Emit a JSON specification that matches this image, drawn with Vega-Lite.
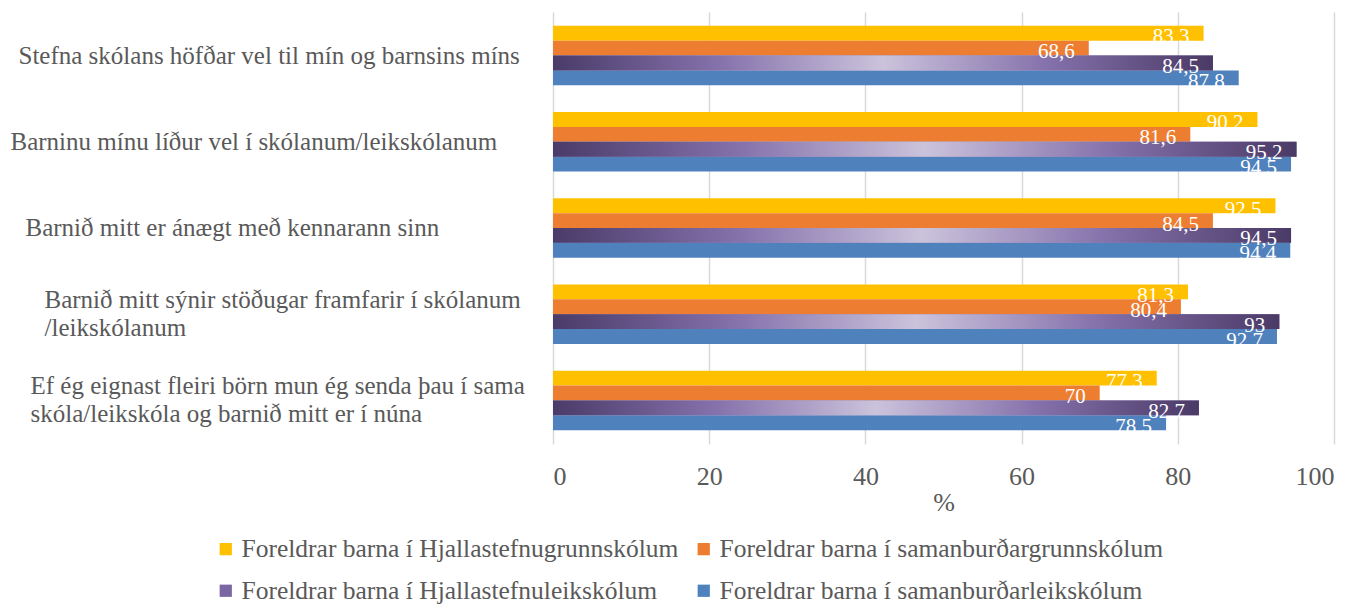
{
  "$schema": "https://vega.github.io/schema/vega-lite/v6.json",
  "autosize": "none",
  "width": 781,
  "height": 432,
  "padding": {"left": 553, "top": 12, "right": 21, "bottom": 161},
  "background": "white",
  "config": {
    "locale": {"number": {"decimal": ",", "thousands": ".", "grouping": [3], "currency": ["", " kr."]}},
    "view": {"stroke": null},
    "font": "Liberation Serif"
  },
  "data": {
    "values": [
      {"q": "Stefna skólans höfðar vel til mín og barnsins míns", "s": "Foreldrar barna í Hjallastefnugrunnskólum", "v": 83.3},
      {"q": "Stefna skólans höfðar vel til mín og barnsins míns", "s": "Foreldrar barna í samanburðargrunnskólum", "v": 68.6},
      {"q": "Stefna skólans höfðar vel til mín og barnsins míns", "s": "Foreldrar barna í Hjallastefnuleikskólum", "v": 84.5},
      {"q": "Stefna skólans höfðar vel til mín og barnsins míns", "s": "Foreldrar barna í samanburðarleikskólum", "v": 87.8},
      {"q": "Barninu mínu líður vel í skólanum/leikskólanum", "s": "Foreldrar barna í Hjallastefnugrunnskólum", "v": 90.2},
      {"q": "Barninu mínu líður vel í skólanum/leikskólanum", "s": "Foreldrar barna í samanburðargrunnskólum", "v": 81.6},
      {"q": "Barninu mínu líður vel í skólanum/leikskólanum", "s": "Foreldrar barna í Hjallastefnuleikskólum", "v": 95.2},
      {"q": "Barninu mínu líður vel í skólanum/leikskólanum", "s": "Foreldrar barna í samanburðarleikskólum", "v": 94.5},
      {"q": "Barnið mitt er ánægt með kennarann sinn", "s": "Foreldrar barna í Hjallastefnugrunnskólum", "v": 92.5},
      {"q": "Barnið mitt er ánægt með kennarann sinn", "s": "Foreldrar barna í samanburðargrunnskólum", "v": 84.5},
      {"q": "Barnið mitt er ánægt með kennarann sinn", "s": "Foreldrar barna í Hjallastefnuleikskólum", "v": 94.5},
      {"q": "Barnið mitt er ánægt með kennarann sinn", "s": "Foreldrar barna í samanburðarleikskólum", "v": 94.4},
      {"q": "Barnið mitt sýnir stöðugar framfarir í skólanum|/leikskólanum", "s": "Foreldrar barna í Hjallastefnugrunnskólum", "v": 81.3},
      {"q": "Barnið mitt sýnir stöðugar framfarir í skólanum|/leikskólanum", "s": "Foreldrar barna í samanburðargrunnskólum", "v": 80.4},
      {"q": "Barnið mitt sýnir stöðugar framfarir í skólanum|/leikskólanum", "s": "Foreldrar barna í Hjallastefnuleikskólum", "v": 93},
      {"q": "Barnið mitt sýnir stöðugar framfarir í skólanum|/leikskólanum", "s": "Foreldrar barna í samanburðarleikskólum", "v": 92.7},
      {"q": "Ef ég eignast fleiri börn mun ég senda þau í sama|skóla/leikskóla og barnið mitt er í núna", "s": "Foreldrar barna í Hjallastefnugrunnskólum", "v": 77.3},
      {"q": "Ef ég eignast fleiri börn mun ég senda þau í sama|skóla/leikskóla og barnið mitt er í núna", "s": "Foreldrar barna í samanburðargrunnskólum", "v": 70},
      {"q": "Ef ég eignast fleiri börn mun ég senda þau í sama|skóla/leikskóla og barnið mitt er í núna", "s": "Foreldrar barna í Hjallastefnuleikskólum", "v": 82.7},
      {"q": "Ef ég eignast fleiri börn mun ég senda þau í sama|skóla/leikskóla og barnið mitt er í núna", "s": "Foreldrar barna í samanburðarleikskólum", "v": 78.5}
    ]
  },
  "encoding": {
    "y": {
      "field": "q", "type": "nominal", "sort": null,
      "scale": {"paddingInner": 0.31, "paddingOuter": 0.16},
      "axis": {
        "title": null, "domain": false, "ticks": false,
        "labelExpr": "split(datum.label, '|')",
        "labelAlign": "left",
        "labelPadding": {"expr": "indexof(datum.value,'Stefna')==0 ? 535 : indexof(datum.value,'Barninu')==0 ? 543 : indexof(datum.value,'Barnið mitt er')==0 ? 528 : indexof(datum.value,'Barnið mitt sýnir')==0 ? 509 : 523"},
        "labelOffset": {"expr": "indexof(datum.value,'|') >= 0 ? -14 : 0"},
        "labelLimit": 600,
        "labelFont": "Liberation Serif", "labelFontSize": 25, "labelColor": "#595959",
        "labelLineHeight": 28
      }
    },
    "yOffset": {
      "field": "s", "type": "nominal",
      "sort": ["Foreldrar barna í Hjallastefnugrunnskólum", "Foreldrar barna í samanburðargrunnskólum", "Foreldrar barna í Hjallastefnuleikskólum", "Foreldrar barna í samanburðarleikskólum"],
      "scale": {"paddingInner": 0, "paddingOuter": 0}
    },
    "x": {
      "field": "v", "type": "quantitative",
      "scale": {"domain": [0, 100], "nice": false},
      "axis": {
        "title": "%", "values": [0, 20, 40, 60, 80, 100],
        "domain": false, "ticks": false,
        "grid": true, "gridColor": "#d9d9d9", "gridWidth": 1.5,
        "labelFont": "Liberation Serif", "labelFontSize": 26, "labelColor": "#595959", "labelPadding": 19,
        "titleFont": "Liberation Serif", "titleFontSize": 26, "titleFontWeight": "normal", "titleColor": "#595959", "titlePadding": 0
      }
    }
  },
  "layer": [
    {
      "mark": {"type": "bar"},
      "encoding": {
        "color": {
          "field": "s", "type": "nominal",
          "sort": ["Foreldrar barna í Hjallastefnugrunnskólum", "Foreldrar barna í samanburðargrunnskólum", "Foreldrar barna í Hjallastefnuleikskólum", "Foreldrar barna í samanburðarleikskólum"],
          "scale": {
            "domain": ["Foreldrar barna í Hjallastefnugrunnskólum", "Foreldrar barna í samanburðargrunnskólum", "Foreldrar barna í Hjallastefnuleikskólum", "Foreldrar barna í samanburðarleikskólum"],
            "range": ["#FFC000", "#ED7D31", "#7a66a2", "#4F81BD"]
          },
          "legend": {
            "title": null, "orient": "none", "legendX": -340, "legendY": 524,
            "direction": "horizontal", "columns": 2, "columnPadding": 12, "rowPadding": 15,
            "symbolType": "square", "symbolSize": 150, "symbolStrokeWidth": 0,
            "labelFont": "Liberation Serif", "labelFontSize": 25.5, "labelColor": "#595959",
            "labelLimit": 700, "labelOffset": 3
          }
        }
      }
    },
    {
      "transform": [{"filter": "datum.s == 'Foreldrar barna í Hjallastefnuleikskólum'"}],
      "mark": {
        "type": "bar",
        "fill": {
          "gradient": "linear", "x1": 0, "y1": 0, "x2": 1, "y2": 0,
          "stops": [
            {"offset": 0, "color": "#4a3b69"},
            {"offset": 0.25, "color": "#8571ab"},
            {"offset": 0.5, "color": "#cbc3dc"},
            {"offset": 0.75, "color": "#8571ab"},
            {"offset": 1, "color": "#4a3a66"}
          ]
        }
      }
    },
    {
      "mark": {"type": "text", "align": "right", "baseline": "middle", "dx": -14, "dy": 4, "color": "white", "font": "Liberation Serif", "fontSize": 21},
      "encoding": {
        "text": {"field": "v", "type": "quantitative", "format": ".3~g"}
      }
    }
  ]
}
